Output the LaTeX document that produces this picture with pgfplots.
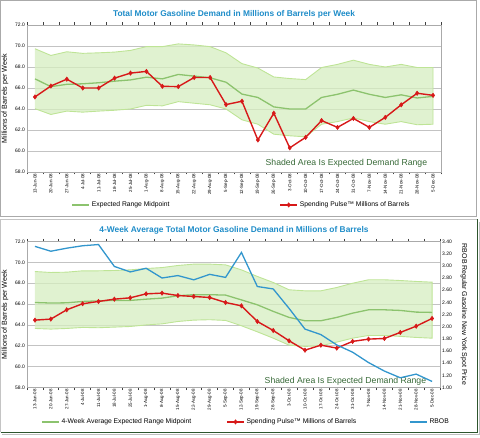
\documentclass[border=0pt]{standalone}
\usepackage{fontspec}
\setmainfont{Liberation Sans}
\usepackage{pgfplots}
\pgfplotsset{compat=1.18}
\usepackage{pgfplotstable}

\definecolor{ttl}{RGB}{30,140,200}
\definecolor{spred}{RGB}{215,25,25}
\definecolor{midg}{RGB}{140,195,110}
\definecolor{edgeg}{RGB}{190,228,150}
\definecolor{bandf}{RGB}{214,238,192}
\definecolor{rbob}{RGB}{50,150,205}
\definecolor{gridc}{RGB}{195,195,195}
\definecolor{shadetxt}{RGB}{55,105,55}
\definecolor{framec}{RGB}{170,170,170}
\definecolor{darkframe}{RGB}{45,85,45}

\pgfplotstableread{
i mid sp
0 66.87 65.15
1 66.13 66.19
2 66.35 66.84
3 66.40 66.00
4 66.50 66.00
5 66.65 66.94
6 66.77 67.42
7 67.03 67.58
8 66.87 66.16
9 67.29 66.13
10 67.13 67.00
11 66.97 67.00
12 66.55 64.42
13 65.42 64.74
14 65.10 61.05
15 64.20 63.60
16 64.00 60.30
17 64.00 61.30
18 65.10 62.90
19 65.40 62.25
20 65.80 63.10
21 65.40 62.25
22 65.10 63.20
23 65.35 64.40
24 65.05 65.50
25 65.20 65.30
}\topdata

% band outline: upper edge left to right, then lower edge right to left
\pgfplotstableread{
i v
0 69.74
1 69.10
2 69.45
3 69.30
4 69.35
5 69.42
6 69.58
7 69.94
8 69.94
9 70.20
10 70.10
11 69.94
12 69.35
13 68.32
14 67.90
15 67.05
16 66.90
17 66.80
18 67.95
19 68.25
20 68.65
21 68.25
22 68.00
23 68.25
24 67.95
25 67.95
25 62.55
24 62.50
23 62.80
22 62.55
21 62.80
20 63.15
19 62.80
18 62.55
17 61.35
16 61.45
15 61.60
14 62.55
13 62.97
12 64.00
11 64.40
10 64.55
9 64.70
8 64.30
7 64.35
6 64.00
5 63.88
4 63.80
3 63.70
2 63.80
1 63.48
0 64.03
}\topband

\pgfplotstableread{
i mid sp rbob
0 66.15 64.46 3.32
1 66.10 64.56 3.24
2 66.12 65.45 3.29
3 66.25 66.03 3.33
4 66.31 66.25 3.35
5 66.35 66.47 2.99
6 66.35 66.60 2.90
7 66.47 66.98 2.96
8 66.57 67.05 2.80
9 66.80 66.82 2.84
10 66.90 66.73 2.77
11 66.90 66.63 2.86
12 66.86 66.15 2.81
13 66.40 65.83 3.22
14 65.93 64.33 2.66
15 65.30 63.47 2.62
16 64.72 62.48 2.30
17 64.40 61.58 1.96
18 64.40 62.06 1.87
19 64.72 61.78 1.70
20 65.13 62.42 1.58
21 65.45 62.64 1.41
22 65.45 62.70 1.27
23 65.39 63.28 1.16
24 65.23 63.88 1.22
25 65.20 64.62 1.10
}\botdata

\pgfplotstableread{
i v
0 69.12
1 69.03
2 69.06
3 69.19
4 69.19
5 69.22
6 69.28
7 69.41
8 69.50
9 69.70
10 69.83
11 69.83
12 69.76
13 69.28
14 68.65
15 68.07
16 67.37
17 67.27
18 67.27
19 67.59
20 68.00
21 68.33
22 68.33
23 68.26
24 68.17
25 68.10
25 62.73
24 62.80
23 62.90
22 62.99
21 62.99
20 62.73
19 62.35
18 62.00
17 61.94
16 62.06
15 62.73
14 63.34
13 63.92
12 64.43
11 64.50
10 64.46
9 64.33
8 64.10
7 64.00
6 63.85
5 63.79
4 63.73
3 63.76
2 63.66
1 63.60
0 63.66
}\botband

\pgfplotsset{
  mybase/.style={
    scale only axis,
    xmin=-0.5, xmax=25.5, ymin=58, ymax=72,
    ytick={58,60,62,64,66,68,70,72},
    xtick={0,...,25},
    xticklabels={13-Jun-08,20-Jun-08,27-Jun-08,4-Jul-08,11-Jul-08,18-Jul-08,25-Jul-08,1-Aug-08,8-Aug-08,15-Aug-08,22-Aug-08,29-Aug-08,5-Sep-08,12-Sep-08,19-Sep-08,26-Sep-08,3-Oct-08,10-Oct-08,17-Oct-08,24-Oct-08,31-Oct-08,7-Nov-08,14-Nov-08,21-Nov-08,28-Nov-08,5-Dec-08},
    minor xtick={-0.5,0.5,...,25.5},
    x tick label style={rotate=90, anchor=east, font=\fontsize{4.5}{5}\selectfont, inner sep=1.5bp},
    y tick label style={font=\fontsize{5}{6}\selectfont, inner sep=2bp},
    yticklabel style={/pgf/number format/fixed, /pgf/number format/fixed zerofill, /pgf/number format/precision=1},
    /pgf/number format/assume math mode=true,
    ymajorgrids, major grid style={gridc, line width=0.8bp},
    axis line style={framec, line width=0.8bp},
    major tick length=0pt, minor tick length=2.5bp, tick align=outside,
    minor tick style={black!75, line width=0.6bp},
    ylabel style={font=\fontsize{7.2}{8}\selectfont, at={(axis description cs:-0.053,0.5)}, anchor=center},
    legend style={draw=none, fill=none, font=\fontsize{6.8}{7}\selectfont, cells={anchor=west}},
  },
  redstyle/.style={spred, line width=1.4bp, mark=diamond*, mark size=2.2bp, mark options={fill=spred, draw=spred, line width=0.5bp}},
  midstyle/.style={midg, line width=1.3bp},
}

\begin{document}
\begin{tikzpicture}
\useasboundingbox (0bp,0bp) rectangle (480bp,438bp);
% panel frames
\draw[framec, line width=1.2bp] (0.6bp,221.5bp) rectangle (476.5bp,437.4bp);
\draw[framec!70, line width=0.6bp] (0.6bp,5.5bp) -- (0.6bp,218.5bp) -- (477.5bp,218.5bp);
\draw[darkframe, line width=1.5bp] (0.6bp,5.5bp) -- (477.5bp,5.5bp) -- (477.5bp,218.5bp);
\draw[black!25, line width=1.2bp] (2bp,3.6bp) -- (479.2bp,3.6bp) -- (479.2bp,216bp);

% titles
\node[font=\bfseries\fontsize{8.4}{10}\selectfont, text=ttl] at (234bp,424bp) {Total Motor Gasoline Demand in Millions of Barrels per Week};
\node[font=\bfseries\fontsize{8.4}{10}\selectfont, text=ttl] at (234bp,208bp) {4-Week Average Total Motor Gasoline Demand in Millions of Barrels};

% ---------- top chart
\begin{axis}[mybase, width=414bp, height=147bp, at={(27bp,266bp)}, anchor=south west,
  ylabel={Millions of Barrels per Week},
  legend columns=2,
  legend style={at={(axis description cs:0.1,-0.224)}, anchor=west, /tikz/every even column/.append style={column sep=108bp}},
]
\addplot[fill=bandf, draw=edgeg, line width=0.9bp, fill opacity=0.75, forget plot] table[x=i,y=v]{\topband};
\addplot[midstyle] table[x=i,y=mid]{\topdata};
\addlegendentry{Expected Range Midpoint}
\addplot[redstyle] table[x=i,y=sp]{\topdata};
\addlegendentry{Spending Pulse™ Millions of Barrels}
\node[anchor=east, font=\fontsize{8.7}{10}\selectfont, text=shadetxt] at (rel axis cs:0.975,0.062) {Shaded Area Is Expected Demand Range};
\end{axis}

% ---------- bottom chart
\begin{axis}[mybase, width=413bp, height=146bp, at={(27bp,50.5bp)}, anchor=south west,
  ylabel={Millions of Barrels per Week},
  legend columns=3,
  legend style={at={(axis description cs:0.027,-0.236)}, anchor=west, /tikz/every even column/.append style={column sep=33bp}},
]
\addplot[fill=bandf, draw=edgeg, line width=0.9bp, fill opacity=0.75, forget plot] table[x=i,y=v]{\botband};
\addplot[midstyle] table[x=i,y=mid]{\botdata};
\addlegendentry{4-Week Average Expected Range Midpoint}
\addplot[redstyle] table[x=i,y=sp]{\botdata};
\addlegendentry{Spending Pulse™ Millions of Barrels\hspace*{18bp}}
\addlegendimage{rbob, line width=1.3bp}
\addlegendentry{RBOB}
\node[anchor=east, font=\fontsize{8.7}{10}\selectfont, text=shadetxt] at (rel axis cs:0.975,0.04) {Shaded Area Is Expected Demand Range};
\end{axis}

\begin{axis}[scale only axis, width=413bp, height=146bp, at={(27bp,50.5bp)}, anchor=south west,
  xmin=-0.5, xmax=25.5, ymin=1, ymax=3.4,
  axis x line=none, axis y line*=right,
  axis line style={framec, line width=0.8bp},
  ytick={1.0,1.2,1.4,1.6,1.8,2.0,2.2,2.4,2.6,2.8,3.0,3.2,3.4},
  major tick length=0pt,
  y tick label style={font=\fontsize{5}{6}\selectfont, inner sep=2bp},
  yticklabel style={/pgf/number format/fixed, /pgf/number format/fixed zerofill, /pgf/number format/precision=2},
  /pgf/number format/assume math mode=true,
  ylabel={RBOB Regular Gasoline New York Spot Price},
  ylabel style={font=\fontsize{7}{8}\selectfont, at={(axis description cs:1.058,0.5)}, anchor=center, rotate=180},
]
\addplot[rbob, line width=1.3bp] table[x=i,y=rbob]{\botdata};
\end{axis}
\end{tikzpicture}
\end{document}
